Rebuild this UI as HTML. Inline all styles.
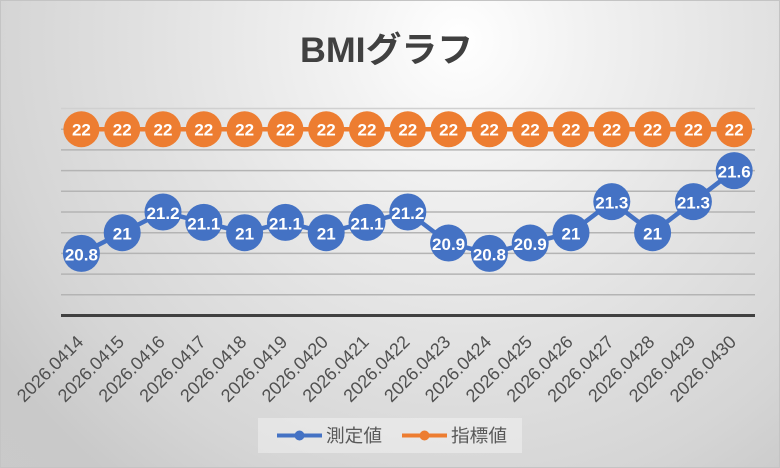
<!DOCTYPE html>
<html>
<head>
<meta charset="utf-8">
<style>
  html,body{margin:0;padding:0;}
  body{width:780px;height:468px;overflow:hidden;}
  .chart{position:relative;width:780px;height:468px;
    background: radial-gradient(circle at 460px 40px, #ffffff 0px, #f2f2f2 120px, #e2e2e2 300px, #d5d5d5 460px, #c9c9c9 560px, #cacaca 700px);
  }
  svg{position:absolute;left:0;top:0;}
  text{font-family:"Liberation Sans","Noto Sans CJK JP",sans-serif;}
</style>
</head>
<body>
<div class="chart">
<svg width="780" height="468" viewBox="0 0 780 468" xmlns="http://www.w3.org/2000/svg">
  <!-- border -->
  <rect x="0.5" y="0.5" width="779" height="467" fill="none" stroke="#c4c4c4" stroke-width="1"/>

  <!-- title -->
  <text x="386.5" y="62" text-anchor="middle" font-size="35" font-weight="bold" fill="#404040" textLength="173" lengthAdjust="spacingAndGlyphs">BMIグラフ</text>

  <!-- gridlines -->
  <g stroke="#b4b4b4" stroke-width="1.5">
    <line x1="61" y1="108.5" x2="755" y2="108.5" stroke="#d0d0d0"/>
    <line x1="61" y1="129.2" x2="755" y2="129.2"/>
    <line x1="61" y1="149.9" x2="755" y2="149.9"/>
    <line x1="61" y1="170.6" x2="755" y2="170.6"/>
    <line x1="61" y1="191.3" x2="755" y2="191.3"/>
    <line x1="61" y1="212.0" x2="755" y2="212.0"/>
    <line x1="61" y1="232.7" x2="755" y2="232.7"/>
    <line x1="61" y1="253.4" x2="755" y2="253.4"/>
    <line x1="61" y1="274.1" x2="755" y2="274.1"/>
    <line x1="61" y1="294.8" x2="755" y2="294.8"/>
  </g>
  <!-- axis -->
  <line x1="61" y1="315.5" x2="755" y2="315.5" stroke="#404040" stroke-width="3"/>

  <!-- orange series -->
  <polyline fill="none" stroke="#ed7d31" stroke-width="4.5" points="81.4,129.2 734.2,129.2"/>
  <g fill="#ed7d31">
    <circle cx="81.4" cy="129.2" r="18"/>
    <circle cx="122.2" cy="129.2" r="18"/>
    <circle cx="163.0" cy="129.2" r="18"/>
    <circle cx="203.8" cy="129.2" r="18"/>
    <circle cx="244.6" cy="129.2" r="18"/>
    <circle cx="285.4" cy="129.2" r="18"/>
    <circle cx="326.2" cy="129.2" r="18"/>
    <circle cx="367.0" cy="129.2" r="18"/>
    <circle cx="407.8" cy="129.2" r="18"/>
    <circle cx="448.6" cy="129.2" r="18"/>
    <circle cx="489.4" cy="129.2" r="18"/>
    <circle cx="530.2" cy="129.2" r="18"/>
    <circle cx="571.0" cy="129.2" r="18"/>
    <circle cx="611.8" cy="129.2" r="18"/>
    <circle cx="652.6" cy="129.2" r="18"/>
    <circle cx="693.4" cy="129.2" r="18"/>
    <circle cx="734.2" cy="129.2" r="18"/>
  </g>
  <g fill="#ffffff" font-size="17" font-weight="bold" text-anchor="middle">
    <text x="81.4" y="135.7">22</text>
    <text x="122.2" y="135.7">22</text>
    <text x="163.0" y="135.7">22</text>
    <text x="203.8" y="135.7">22</text>
    <text x="244.6" y="135.7">22</text>
    <text x="285.4" y="135.7">22</text>
    <text x="326.2" y="135.7">22</text>
    <text x="367.0" y="135.7">22</text>
    <text x="407.8" y="135.7">22</text>
    <text x="448.6" y="135.7">22</text>
    <text x="489.4" y="135.7">22</text>
    <text x="530.2" y="135.7">22</text>
    <text x="571.0" y="135.7">22</text>
    <text x="611.8" y="135.7">22</text>
    <text x="652.6" y="135.7">22</text>
    <text x="693.4" y="135.7">22</text>
    <text x="734.2" y="135.7">22</text>
  </g>

  <!-- blue series -->
  <polyline fill="none" stroke="#4472c4" stroke-width="4.5" stroke-linejoin="round"
    points="81.4,253.4 122.2,232.7 163.0,212.0 203.8,222.35 244.6,232.7 285.4,222.35 326.2,232.7 367.0,222.35 407.8,212.0 448.6,243.05 489.4,253.4 530.2,243.05 571.0,232.7 611.8,201.65 652.6,232.7 693.4,201.65 734.2,170.6"/>
  <g fill="#4472c4">
    <circle cx="81.4" cy="253.4" r="18.5"/>
    <circle cx="122.2" cy="232.7" r="18.5"/>
    <circle cx="163.0" cy="212.0" r="18.5"/>
    <circle cx="203.8" cy="222.35" r="18.5"/>
    <circle cx="244.6" cy="232.7" r="18.5"/>
    <circle cx="285.4" cy="222.35" r="18.5"/>
    <circle cx="326.2" cy="232.7" r="18.5"/>
    <circle cx="367.0" cy="222.35" r="18.5"/>
    <circle cx="407.8" cy="212.0" r="18.5"/>
    <circle cx="448.6" cy="243.05" r="18.5"/>
    <circle cx="489.4" cy="253.4" r="18.5"/>
    <circle cx="530.2" cy="243.05" r="18.5"/>
    <circle cx="571.0" cy="232.7" r="18.5"/>
    <circle cx="611.8" cy="201.65" r="18.5"/>
    <circle cx="652.6" cy="232.7" r="18.5"/>
    <circle cx="693.4" cy="201.65" r="18.5"/>
    <circle cx="734.2" cy="170.6" r="18.5"/>
  </g>
  <g fill="#ffffff" font-size="17" font-weight="bold" text-anchor="middle">
    <text x="81.4" y="260.4">20.8</text>
    <text x="122.2" y="239.7">21</text>
    <text x="163.0" y="219.0">21.2</text>
    <text x="203.8" y="229.35">21.1</text>
    <text x="244.6" y="239.7">21</text>
    <text x="285.4" y="229.35">21.1</text>
    <text x="326.2" y="239.7">21</text>
    <text x="367.0" y="229.35">21.1</text>
    <text x="407.8" y="219.0">21.2</text>
    <text x="448.6" y="250.05">20.9</text>
    <text x="489.4" y="260.4">20.8</text>
    <text x="530.2" y="250.05">20.9</text>
    <text x="571.0" y="239.7">21</text>
    <text x="611.8" y="208.65">21.3</text>
    <text x="652.6" y="239.7">21</text>
    <text x="693.4" y="208.65">21.3</text>
    <text x="734.2" y="177.6">21.6</text>
  </g>

  <!-- x labels -->
  <g fill="#505050" font-size="18" text-anchor="end">
    <text transform="translate(84.4,343) rotate(-45)" textLength="85" lengthAdjust="spacingAndGlyphs">2026.0414</text>
    <text transform="translate(125.2,343) rotate(-45)" textLength="85" lengthAdjust="spacingAndGlyphs">2026.0415</text>
    <text transform="translate(166.0,343) rotate(-45)" textLength="85" lengthAdjust="spacingAndGlyphs">2026.0416</text>
    <text transform="translate(206.8,343) rotate(-45)" textLength="85" lengthAdjust="spacingAndGlyphs">2026.0417</text>
    <text transform="translate(247.6,343) rotate(-45)" textLength="85" lengthAdjust="spacingAndGlyphs">2026.0418</text>
    <text transform="translate(288.4,343) rotate(-45)" textLength="85" lengthAdjust="spacingAndGlyphs">2026.0419</text>
    <text transform="translate(329.2,343) rotate(-45)" textLength="85" lengthAdjust="spacingAndGlyphs">2026.0420</text>
    <text transform="translate(370.0,343) rotate(-45)" textLength="85" lengthAdjust="spacingAndGlyphs">2026.0421</text>
    <text transform="translate(410.8,343) rotate(-45)" textLength="85" lengthAdjust="spacingAndGlyphs">2026.0422</text>
    <text transform="translate(451.6,343) rotate(-45)" textLength="85" lengthAdjust="spacingAndGlyphs">2026.0423</text>
    <text transform="translate(492.4,343) rotate(-45)" textLength="85" lengthAdjust="spacingAndGlyphs">2026.0424</text>
    <text transform="translate(533.2,343) rotate(-45)" textLength="85" lengthAdjust="spacingAndGlyphs">2026.0425</text>
    <text transform="translate(574.0,343) rotate(-45)" textLength="85" lengthAdjust="spacingAndGlyphs">2026.0426</text>
    <text transform="translate(614.8,343) rotate(-45)" textLength="85" lengthAdjust="spacingAndGlyphs">2026.0427</text>
    <text transform="translate(655.6,343) rotate(-45)" textLength="85" lengthAdjust="spacingAndGlyphs">2026.0428</text>
    <text transform="translate(696.4,343) rotate(-45)" textLength="85" lengthAdjust="spacingAndGlyphs">2026.0429</text>
    <text transform="translate(737.2,343) rotate(-45)" textLength="85" lengthAdjust="spacingAndGlyphs">2026.0430</text>
  </g>

  <!-- legend -->
  <rect x="258" y="418" width="264" height="35" fill="#ffffff" fill-opacity="0.35"/>
  <line x1="277" y1="435.5" x2="322" y2="435.5" stroke="#4472c4" stroke-width="4"/>
  <circle cx="299.5" cy="435.5" r="5" fill="#4472c4"/>
  <text x="326" y="442" font-size="18" fill="#595959" textLength="56" lengthAdjust="spacingAndGlyphs">測定値</text>
  <line x1="402" y1="435.5" x2="447" y2="435.5" stroke="#ed7d31" stroke-width="4"/>
  <circle cx="424.5" cy="435.5" r="5" fill="#ed7d31"/>
  <text x="451" y="442" font-size="18" fill="#595959" textLength="56" lengthAdjust="spacingAndGlyphs">指標値</text>
</svg>
</div>
</body>
</html>
